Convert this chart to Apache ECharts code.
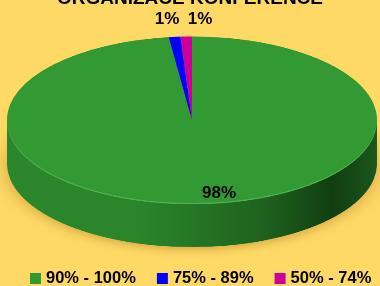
<!DOCTYPE html>
<html>
<head>
<meta charset="utf-8">
<script src="https://cdn.jsdelivr.net/npm/echarts@6/dist/echarts.min.js"></script>
<style>
  html, body { margin: 0; padding: 0; background: #FFD966; }
  #wrap { position: relative; width: 380px; height: 286px; overflow: hidden; }
  /* pie layer is squashed vertically to get the tilted look */
  #pie { position: absolute; left: 0; top: 0; width: 380px; height: 580px;
         transform: scaleY(0.45); transform-origin: 0 0; }
  #main { position: absolute; left: 0; top: 0; width: 380px; height: 286px; }
</style>
</head>
<body>
<div id="wrap">
  <div id="pie"></div>
  <div id="main"></div>
</div>
<script>
var categories = ['90% - 100%', '75% - 89%', '50% - 74%'];
var values = [98, 1, 1];
var colors = ['#339933', '#0000FF', '#CC0099'];
var sideColors = ['#2a7f2a', '#0000a0', '#800060'];
var labelPos = [[219, 193], [167, 19], [200, 19]];

var font = 'Liberation Sans, Arial, sans-serif';

var pieChart = echarts.init(document.getElementById('pie'));
var chart = echarts.init(document.getElementById('main'));

function pieData(cols) {
  return categories.map(function (c, i) {
    return { name: c, value: values[i], itemStyle: { color: cols[i] } };
  });
}

var sideGreen = new echarts.graphic.LinearGradient(0, 0, 1, 0, [
  { offset: 0, color: '#2c862c' },
  { offset: 0.35, color: '#2b862b' },
  { offset: 0.7, color: '#1e611e' },
  { offset: 0.88, color: '#113e11' },
  { offset: 1, color: '#1d561d' }
]);

var cx = 192, cy = 266, r = 185, depth = 98, layers = 12;
var series = [];
for (var k = layers; k >= 1; k--) {
  var cols = sideColors.slice();
  cols[0] = sideGreen;
  series.push({
    type: 'pie',
    silent: true,
    radius: r,
    center: [cx, cy + depth * k / layers],
    label: { show: false },
    labelLine: { show: false },
    itemStyle: k === layers ? { shadowBlur: 20, shadowColor: 'rgba(120,80,0,0.35)', shadowOffsetY: 6 } : {},
    data: pieData(cols)
  });
}
// light rim at the edge of the top face
series.push({
  type: 'pie', silent: true, radius: r, center: [cx, cy + 3],
  label: { show: false }, labelLine: { show: false },
  data: pieData(['#4fb04f', '#3030ff', '#e040b0'])
});
series.push({
  type: 'pie', silent: true, radius: r, center: [cx, cy],
  label: { show: false }, labelLine: { show: false },
  data: pieData(colors)
});

pieChart.setOption({ animation: false, series: series });

chart.setOption({
  animation: false,
  title: {
    text: 'ORGANIZACE KONFERENCE',
    left: 'center',
    top: -11,
    padding: 0,
    textStyle: { fontFamily: font, fontSize: 19, fontWeight: 'bold', color: '#000' }
  },
  legend: {
    data: categories,
    left: 25,
    top: 265,
    itemWidth: 11,
    itemHeight: 11,
    itemGap: 21,
    icon: 'rect',
    textStyle: { fontFamily: font, fontSize: 16.5, fontWeight: 'bold', color: '#000' }
  },
  series: [{
    type: 'pie',
    radius: 1,
    center: [cx, 120],
    silent: true,
    percentPrecision: 0,
    label: {
      show: true,
      formatter: '{d}%',
      fontFamily: font,
      fontSize: 17,
      fontWeight: 'bold',
      color: '#000'
    },
    labelLine: { show: false },
    labelLayout: function (p) {
      var pos = labelPos[p.dataIndex];
      return { x: pos[0], y: pos[1], align: 'center', verticalAlign: 'middle' };
    },
    data: pieData(colors)
  }]
});

chart.on('legendselectchanged', function (e) {
  pieChart.dispatchAction({ type: e.selected[e.name] ? 'legendSelect' : 'legendUnSelect', name: e.name });
});
</script>
</body>
</html>
